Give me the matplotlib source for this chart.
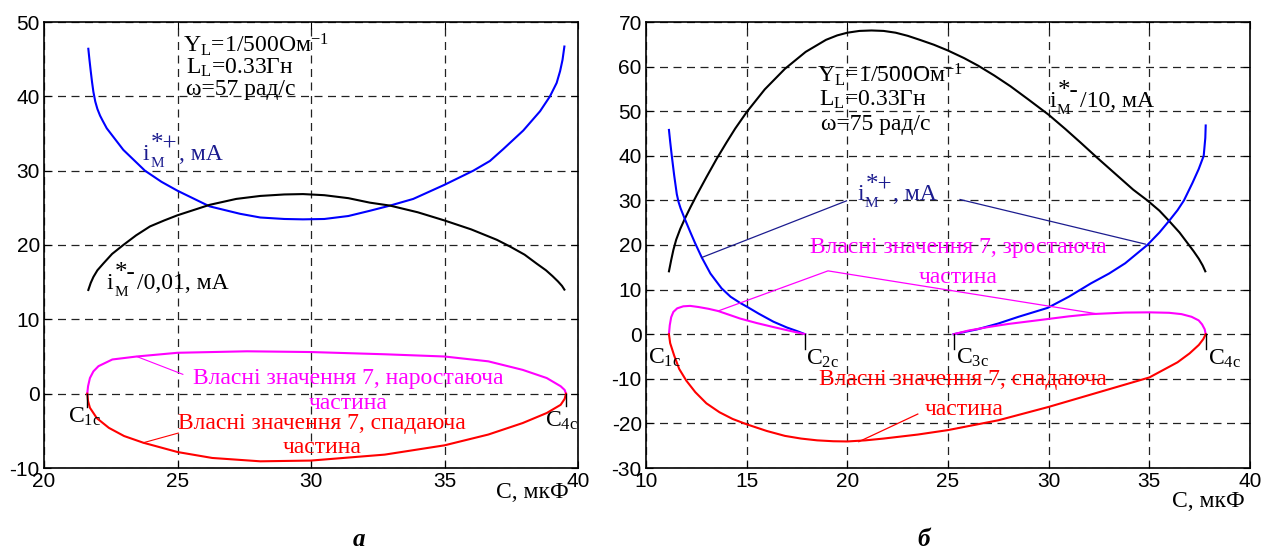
import numpy as np
import matplotlib.pyplot as plt

plt.rcParams['font.family'] = ['Liberation Sans', 'DejaVu Sans']
plt.rcParams['mathtext.fontset'] = 'custom'
plt.rcParams['mathtext.rm'] = 'Liberation Serif'
plt.rcParams['mathtext.it'] = 'Liberation Serif:italic'
plt.rcParams['mathtext.bf'] = 'Liberation Serif:bold'
plt.rcParams['mathtext.default'] = 'rm'
plt.rcParams['axes.unicode_minus'] = False
SERIF = ['Liberation Serif', 'DejaVu Serif']
NAVY = '#1c1c8f'
MAG = '#ff00ff'

# ---- panel a: omega = 57 rad/s ----
a_blue_x = [21.66, 21.7, 21.75, 21.8, 21.85, 21.92, 22.0, 22.1, 22.2, 22.35,
            22.97, 23.78, 24.4, 25.0, 26.2, 27.34, 28.1, 29.0, 29.7, 30.5,
            31.4, 32.2, 32.96, 33.83, 35.0, 36.08, 36.7, 37.2, 37.95, 38.58,
            38.95, 39.2, 39.33, 39.42, 39.49]
a_blue_y = [46.4, 45.0, 43.4, 41.9, 40.6, 39.3, 38.3, 37.4, 36.7, 35.7,
            32.8, 30.0, 28.5, 27.3, 25.2, 24.2, 23.7, 23.5, 23.45, 23.5,
            23.9, 24.6, 25.3, 26.2, 28.1, 30.0, 31.3, 32.9, 35.4, 38.0,
            40.0, 41.8, 43.4, 44.9, 46.7]
a_black_x = [21.66, 21.75, 21.85, 22.0, 22.22, 22.55, 22.97, 23.45, 23.97, 24.5,
             25.0, 26.2, 27.2, 28.1, 29.0, 29.7, 30.5, 31.4, 32.2, 32.96,
             34.0, 35.0, 36.0, 36.96, 37.45, 38.0, 38.45, 38.8, 39.05, 39.25,
             39.4, 39.49]
a_black_y = [13.95, 14.9, 15.7, 16.6, 17.5, 18.8, 20.0, 21.3, 22.5, 23.3,
             24.0, 25.4, 26.2, 26.6, 26.8, 26.85, 26.7, 26.3, 25.7, 25.3,
             24.4, 23.3, 22.1, 20.7, 19.8, 18.7, 17.5, 16.6, 15.8, 15.1,
             14.5, 14.0]
a_mag_x = [21.62, 21.65, 21.72, 21.85, 22.04, 22.56, 23.47, 25.0, 27.6, 30.0,
           32.76, 35.0, 36.64, 37.93, 38.83, 39.35, 39.5, 39.55]
a_mag_y = [0.0, 1.0, 2.1, 3.0, 3.7, 4.6, 5.0, 5.5, 5.7, 5.6,
           5.3, 5.0, 4.35, 3.2, 2.1, 1.0, 0.5, 0.0]
a_red_x = [21.62, 21.65, 21.72, 21.98, 22.43, 23.0, 23.72, 25.0, 26.3, 28.1,
           30.0, 32.76, 35.0, 36.64, 37.93, 38.83, 39.35, 39.5, 39.55]
a_red_y = [0.0, -1.0, -1.9, -3.3, -4.6, -5.7, -6.6, -7.85, -8.65, -9.1,
           -9.0, -8.2, -6.95, -5.5, -3.95, -2.6, -1.5, -0.7, 0.0]

# ---- panel b: omega = 75 rad/s ----
b_black_x = [11.14, 11.25, 11.36, 11.5, 11.7, 11.94, 12.2, 12.52, 13.0, 13.52,
             14.0, 14.43, 15.0, 15.9, 16.9, 17.93, 18.94, 19.5, 20.0, 20.6,
             21.2, 21.8, 22.4, 23.0, 23.6, 24.3, 25.0, 25.8, 26.5, 27.3,
             28.1, 29.0, 30.0, 30.83, 31.6, 32.4, 33.3, 34.2, 34.9, 35.5,
             35.98, 36.5, 36.9, 37.2, 37.46, 37.65, 37.78]
b_black_y = [14.1, 16.6, 18.9, 21.2, 23.6, 26.0, 28.4, 31.2, 35.2, 39.4,
             43.0, 46.1, 49.8, 54.9, 59.5, 63.3, 66.0, 67.0, 67.6, 68.0,
             68.1, 68.0, 67.6, 66.9, 66.0, 64.9, 63.6, 61.9, 60.2, 58.0,
             55.6, 52.6, 49.2, 46.0, 42.9, 39.6, 36.0, 32.4, 30.0, 27.7,
             25.4, 22.8, 20.4, 18.6, 16.9, 15.4, 14.1]
b_blue1_x = [11.14, 11.2, 11.28, 11.4, 11.53, 11.62, 11.72, 11.94, 12.2, 12.44,
             12.77, 13.2, 13.75, 14.2, 14.68, 15.0, 15.6, 16.33, 17.0, 17.5, 17.9]
b_blue1_y = [45.8, 43.2, 40.0, 35.6, 31.4, 29.6, 28.2, 25.7, 22.9, 20.4,
             17.2, 13.6, 10.3, 8.4, 7.0, 6.2, 4.6, 2.8, 1.5, 0.7, 0.0]
b_blue2_x = [25.28, 26.46, 27.5, 28.5, 29.95, 31.0, 32.1, 33.0, 33.8, 34.9,
             35.5, 35.98, 36.4, 36.72, 37.14, 37.45, 37.7, 37.78, 37.8]
b_blue2_y = [0.0, 1.1, 2.4, 3.9, 5.9, 8.4, 11.4, 13.6, 15.9, 20.0,
             22.8, 25.4, 27.8, 30.0, 33.9, 37.0, 40.0, 44.0, 46.8]
b_mag1_x = [11.14, 11.18, 11.25, 11.36, 11.55, 11.85, 12.19, 12.6, 13.1, 13.58,
            14.1, 14.68, 15.5, 16.33, 17.1, 17.9]
b_mag1_y = [0.0, 2.0, 3.8, 5.0, 5.8, 6.25, 6.35, 6.1, 5.7, 5.2,
            4.4, 3.5, 2.5, 1.6, 0.8, 0.0]
b_mag2_x = [25.28, 26.0, 27.0, 28.0, 29.6, 31.0, 32.1, 33.8, 35.0, 35.98,
            36.6, 37.1, 37.45, 37.62, 37.75, 37.8]
b_mag2_y = [0.0, 0.8, 1.6, 2.3, 3.2, 4.0, 4.5, 4.85, 4.9, 4.8,
            4.5, 3.9, 3.1, 2.2, 1.1, 0.0]
b_red_x = [11.14, 11.2, 11.4, 11.65, 12.0, 12.45, 13.0, 13.65, 14.3, 15.0, 16.0,
           16.9, 17.7, 18.5, 19.3, 20.0, 20.9, 21.8, 23.5, 25.0, 27.5, 30.0,
           32.5, 35.0, 36.4, 37.0, 37.46, 37.68, 37.8]
b_red_y = [0.0, -2.0, -4.8, -7.8, -10.4, -13.0, -15.5, -17.5, -19.0, -20.2, -21.7,
           -22.8, -23.4, -23.8, -24.0, -24.05, -23.8, -23.4, -22.5, -21.5, -19.3, -16.3,
           -13.0, -9.7, -6.3, -4.3, -2.4, -1.1, 0.0]

a_xticks = [20, 25, 30, 35, 40]
a_yticks = [-10, 0, 10, 20, 30, 40, 50]
b_xticks = [10, 15, 20, 25, 30, 35, 40]
b_yticks = [-30, -20, -10, 0, 10, 20, 30, 40, 50, 60, 70]

fig = plt.figure(figsize=(12.71, 5.52), dpi=100)
ax1 = fig.add_axes([44 / 1271, 84 / 552, 534 / 1271, 446 / 552])
ax2 = fig.add_axes([646 / 1271, 84 / 552, 604 / 1271, 446 / 552])


def style(ax, xt, yt):
    ax.set_xlim(xt[0], xt[-1])
    ax.set_ylim(yt[0], yt[-1])
    ax.set_xticks(xt)
    ax.set_yticks(yt)
    ax.tick_params(direction='in', length=5, labelsize=15, pad=3, width=0.8,
                   top=True, right=True)
    ax.grid(True, color='#222222', linestyle=(0, (6.4, 4.4)), linewidth=0.9)
    for s in ax.spines.values():
        s.set_linewidth(1.2)


style(ax1, a_xticks, a_yticks)
style(ax2, b_xticks, b_yticks)

LW = 1.5
FS = 17
tkw = dict(family=SERIF, fontsize=FS)


def current_label(ax, x, y, sup, rest, color='black'):
    # i_M with a big superscript, then the rest of the label
    t_i = ax.text(x, y, 'i', va='bottom', color=color, **tkw)
    ax.annotate('M', xy=(1, 0), xycoords=t_i, xytext=(0.5, -3.5),
                textcoords='offset points', va='bottom', color=color,
                family=SERIF, fontsize=11)
    t_s = ax.annotate(sup, xy=(1, 0), xycoords=t_i, xytext=(1, 7),
                      textcoords='offset points', va='bottom', color=color,
                      family=SERIF, fontsize=FS + 1)
    ax.annotate(rest, xy=(1, 0), xycoords=(t_s, t_i), xytext=(1, 0),
                textcoords='offset points', va='bottom', color=color, **tkw)


# panel a curves
ax1.plot(a_blue_x, a_blue_y, color='blue', lw=LW)
ax1.plot(a_black_x, a_black_y, color='black', lw=LW)
ax1.plot(a_mag_x, a_mag_y, color=MAG, lw=LW)
ax1.plot(a_red_x, a_red_y, color='red', lw=LW)

ax1.text(25.2, 46.9, r'Y$_\mathrm{L}$=1/500Ом$^{-1}$', va='center', **tkw)
ax1.text(25.3, 43.8, r'L$_\mathrm{L}$=0.33Гн', va='center', **tkw)
ax1.text(25.3, 40.9, 'ω=57 рад/с', va='center', **tkw)
current_label(ax1, 23.7, 30.8, '*+', ', мА', NAVY)
current_label(ax1, 22.35, 13.4, '*-', '/0,01, мА')

ax1.plot([23.47, 25.2], [5.0, 2.6], color=MAG, lw=0.8)
ax1.text(31.4, 2.0, 'Власні значення 7, наростаюча', ha='center', va='center',
         color=MAG, **tkw)
ax1.text(31.4, -1.3, 'частина', ha='center', va='center', color=MAG, **tkw)
ax1.plot([23.72, 25.03], [-6.6, -5.3], color='red', lw=0.8)
ax1.text(30.4, -4.0, 'Власні значення 7, спадаюча', ha='center', va='center',
         color='red', **tkw)
ax1.text(30.4, -7.3, 'частина', ha='center', va='center', color='red', **tkw)

ax1.plot([21.62, 21.62], [0, -1.8], color='black', lw=1)
ax1.plot([39.55, 39.55], [0, -1.6], color='black', lw=1)
ax1.text(20.9, -3.1, r'C$_\mathrm{1c}$', va='center', **tkw)
ax1.text(38.75, -3.7, r'C$_\mathrm{4c}$', va='center', **tkw)
ax1.text(0.983, -0.056, 'C, мкФ', transform=ax1.transAxes, ha='right', va='center', **tkw)

# panel b curves
ax2.plot(b_black_x, b_black_y, color='black', lw=LW)
ax2.plot(b_blue1_x, b_blue1_y, color='blue', lw=LW)
ax2.plot(b_blue2_x, b_blue2_y, color='blue', lw=LW)
ax2.plot(b_mag1_x, b_mag1_y, color=MAG, lw=LW)
ax2.plot(b_mag2_x, b_mag2_y, color=MAG, lw=LW)
ax2.plot(b_red_x, b_red_y, color='red', lw=LW)

ax2.text(18.5, 58.2, r'Y$_\mathrm{L}$=1/500Ом$^{-1}$', va='center', **tkw)
ax2.text(18.6, 52.6, r'L$_\mathrm{L}$=0.33Гн', va='center', **tkw)
ax2.text(18.7, 47.0, 'ω=75 рад/с', va='center', **tkw)
current_label(ax2, 30.05, 49.8, '*-', '/10, мА')

current_label(ax2, 20.5, 28.9, '*+', ', мА', NAVY)
ax2.plot([12.77, 19.96], [17.2, 29.9], color=NAVY, lw=0.9)
ax2.plot([25.6, 34.8], [30.2, 20.2], color=NAVY, lw=0.9)

ax2.text(25.5, 19.4, 'Власні значення 7, зростаюча', ha='center', va='center',
         color=MAG, **tkw)
ax2.text(25.5, 12.7, 'частина', ha='center', va='center', color=MAG, **tkw)
ax2.plot([13.58, 19.04, 32.36], [5.2, 14.2, 4.6], color=MAG, lw=0.9)

ax2.text(25.75, -10.1, 'Власні значення 7, спадаюча', ha='center', va='center',
         color='red', **tkw)
ax2.text(25.8, -16.8, 'частина', ha='center', va='center', color='red', **tkw)
ax2.plot([20.57, 23.5], [-24.1, -17.9], color='red', lw=0.9)

for xc in [17.9, 25.28, 37.8]:
    ax2.plot([xc, xc], [0, -3.4], color='black', lw=1)
ax2.text(10.1, -5.2, r'C$_\mathrm{1c}$', va='center', **tkw)
ax2.text(17.93, -5.6, r'C$_\mathrm{2c}$', va='center', **tkw)
ax2.text(25.4, -5.4, r'C$_\mathrm{3c}$', va='center', **tkw)
ax2.text(37.9, -5.6, r'C$_\mathrm{4c}$', va='center', **tkw)
ax2.text(0.992, -0.076, 'C, мкФ', transform=ax2.transAxes, ha='right', va='center', **tkw)

fig.text(359 / 1271, 1 - 540 / 552, 'а', ha='center', va='center', family=SERIF,
         fontsize=18, fontweight='bold', fontstyle='italic')
fig.text(924 / 1271, 1 - 540 / 552, 'б', ha='center', va='center', family=SERIF,
         fontsize=18, fontweight='bold', fontstyle='italic')

fig.savefig('out.png', dpi=100)
